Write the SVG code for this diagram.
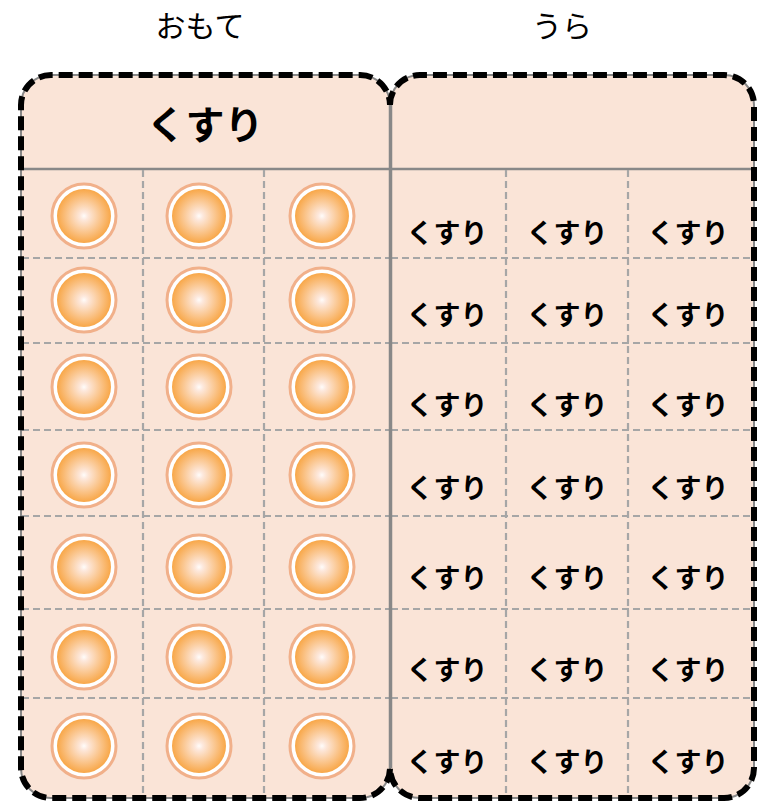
<svg xmlns="http://www.w3.org/2000/svg" width="775" height="805" viewBox="0 0 775 805">
<style>
.panel{fill:#fae4d7;stroke:#888;stroke-width:2}
.sep{stroke:#888;stroke-width:2.5;fill:none}
.grid{stroke:#a6a6a6;stroke-width:2.2;stroke-dasharray:7 4;fill:none}
.border{fill:none;stroke:#000;stroke-width:6;stroke-dasharray:14 6}
.lbl{font-family:"Noto Sans CJK JP","Noto Sans",sans-serif;font-size:30px;fill:#000;text-anchor:middle}
.hd{font-family:"Noto Sans CJK JP","Noto Sans",sans-serif;font-size:39px;font-weight:bold;fill:#000;text-anchor:middle}
.cell{font-family:"Noto Sans CJK JP","Noto Sans",sans-serif;font-size:27px;font-weight:bold;fill:#000;text-anchor:middle}
.ring{fill:#fff;stroke:#f1b08a;stroke-width:3}
.core{fill:url(#pg)}
</style>
<defs>
<radialGradient id="pg" cx="0.5" cy="0.5" r="0.5">
<stop offset="0" stop-color="#fffcfa"/>
<stop offset="0.15" stop-color="#fde8dc"/>
<stop offset="1" stop-color="#f8a748"/>
</radialGradient>
<g id="pill"><circle class="ring" r="32"/><circle class="core" r="27"/></g>
</defs>
<text class="lbl" x="200" y="37">おもて</text>
<text class="lbl" x="562" y="37">うら</text>
<g id="front">
<rect class="panel" x="21" y="75" width="369" height="723" rx="30"/>
<line class="sep" x1="21" y1="169" x2="390" y2="169"/>
<line class="grid" x1="143" y1="170" x2="143" y2="797"/>
<line class="grid" x1="264" y1="170" x2="264" y2="797"/>
<line class="grid" x1="22" y1="258" x2="389" y2="258"/>
<line class="grid" x1="22" y1="343" x2="389" y2="343"/>
<line class="grid" x1="22" y1="430" x2="389" y2="430"/>
<line class="grid" x1="22" y1="516" x2="389" y2="516"/>
<line class="grid" x1="22" y1="609" x2="389" y2="609"/>
<line class="grid" x1="22" y1="698" x2="389" y2="698"/>
<text class="hd" x="205" y="139">くすり</text>
</g>
<g id="back">
<rect class="panel" x="390" y="75" width="364" height="723" rx="30"/>
<line class="sep" x1="390" y1="169" x2="754" y2="169"/>
<line class="grid" x1="506" y1="170" x2="506" y2="797"/>
<line class="grid" x1="628" y1="170" x2="628" y2="797"/>
<line class="grid" x1="391" y1="258" x2="753" y2="258"/>
<line class="grid" x1="391" y1="343" x2="753" y2="343"/>
<line class="grid" x1="391" y1="430" x2="753" y2="430"/>
<line class="grid" x1="391" y1="516" x2="753" y2="516"/>
<line class="grid" x1="391" y1="609" x2="753" y2="609"/>
<line class="grid" x1="391" y1="698" x2="753" y2="698"/>
</g>
<line x1="390.5" y1="105" x2="390.5" y2="768" stroke="#888" stroke-width="3.5"/>
<g id="pills">
<use href="#pill" x="84" y="216"/><use href="#pill" x="199" y="216"/><use href="#pill" x="322" y="216"/>
<use href="#pill" x="84" y="300"/><use href="#pill" x="199" y="300"/><use href="#pill" x="322" y="300"/>
<use href="#pill" x="84" y="387"/><use href="#pill" x="199" y="387"/><use href="#pill" x="322" y="387"/>
<use href="#pill" x="84" y="475"/><use href="#pill" x="199" y="475"/><use href="#pill" x="322" y="475"/>
<use href="#pill" x="84" y="567"/><use href="#pill" x="199" y="567"/><use href="#pill" x="322" y="567"/>
<use href="#pill" x="84" y="657"/><use href="#pill" x="199" y="657"/><use href="#pill" x="322" y="657"/>
<use href="#pill" x="84" y="746"/><use href="#pill" x="199" y="746"/><use href="#pill" x="322" y="746"/>
</g>
<g id="labels">
<text class="cell" x="447" y="243">くすり</text><text class="cell" x="567" y="243">くすり</text><text class="cell" x="688" y="243">くすり</text>
<text class="cell" x="447" y="325">くすり</text><text class="cell" x="567" y="325">くすり</text><text class="cell" x="688" y="325">くすり</text>
<text class="cell" x="447" y="415">くすり</text><text class="cell" x="567" y="415">くすり</text><text class="cell" x="688" y="415">くすり</text>
<text class="cell" x="447" y="498">くすり</text><text class="cell" x="567" y="498">くすり</text><text class="cell" x="688" y="498">くすり</text>
<text class="cell" x="447" y="588">くすり</text><text class="cell" x="567" y="588">くすり</text><text class="cell" x="688" y="588">くすり</text>
<text class="cell" x="447" y="680">くすり</text><text class="cell" x="567" y="680">くすり</text><text class="cell" x="688" y="680">くすり</text>
<text class="cell" x="447" y="772">くすり</text><text class="cell" x="567" y="772">くすり</text><text class="cell" x="688" y="772">くすり</text>
</g>
<path class="border" d="M390,105 A30,30 0 0 1 420,75 L724,75 A30,30 0 0 1 754,105 L754,768 A30,30 0 0 1 724,798 L420,798 A30,30 0 0 1 390,768 A30,30 0 0 1 360,798 L51,798 A30,30 0 0 1 21,768 L21,105 A30,30 0 0 1 51,75 L360,75 A30,30 0 0 1 390,105 Z"/>
</svg>
